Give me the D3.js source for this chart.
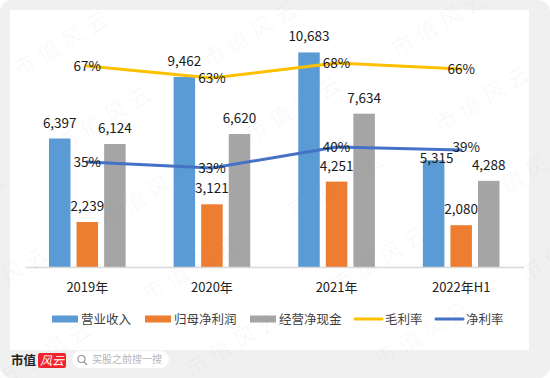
<!DOCTYPE html>
<html>
<head>
<meta charset="utf-8">
<script src="https://cdn.jsdelivr.net/npm/d3@7"></script>
<style>
html, body { margin: 0; padding: 0; background: #fff; }
text { font-family: "Noto Sans CJK SC", "Noto Sans", sans-serif; }
</style>
</head>
<body>
<div id="chart"></div>
<script>
var years = ["2019年", "2020年", "2021年", "2022年H1"];
var barNames = ["营业收入", "归母净利润", "经营净现金"];
var revenue = [6397, 9462, 10683, 5315];
var netProfit = [2239, 3121, 4251, 2080];
var cashFlow = [6124, 6620, 7634, 4288];
var grossMargin = [67, 63, 68, 66];
var netMargin = [35, 33, 40, 39];
var barColors = ["#5b9bd5", "#ed7d31", "#a5a5a5"];
var grossColor = "#ffc000", netColor = "#4472c4";

var width = 550, height = 378;
var svg = d3.select("#chart").append("svg")
    .attr("width", width)
    .attr("height", height)
    .style("display", "block");

// page background + white card
svg.append("rect").attr("x", 0).attr("y", 0).attr("width", width).attr("height", height).attr("rx", 12).attr("fill", "#f0f0f0");
svg.append("rect").attr("x", 10).attr("y", 10).attr("width", 519).attr("height", 340).attr("fill", "#fff");

var x0 = d3.scaleBand().domain(years).range([25, 523.5]);
var x1 = d3.scaleBand().domain(barNames)
    .range([24, x0.bandwidth() - 24])
    .paddingInner(0.22);
var y = d3.scaleLinear().domain([0, 12000]).range([267, 26]);
var yPct = d3.scaleLinear().domain([0, 80]).range([267, 27]);

var barSeries = [revenue, netProfit, cashFlow];

// bars
barSeries.forEach(function(values, s) {
    svg.append("g").selectAll("rect")
        .data(values)
        .enter().append("rect")
            .attr("x", function(d, i) { return x0(years[i]) + x1(barNames[s]); })
            .attr("y", function(d) { return y(d); })
            .attr("width", x1.bandwidth())
            .attr("height", function(d) { return y(0) - y(d); })
            .attr("fill", barColors[s]);
});

// x axis
var xAxis = svg.append("g")
    .attr("transform", "translate(0,267)")
    .call(d3.axisBottom(x0).tickSize(0).tickPadding(16));
xAxis.select(".domain").attr("stroke", "#d9d9d9").attr("stroke-width", 1.5);
xAxis.selectAll("text").attr("font-size", 13).attr("fill", "#222")
    .style("font-family", '"Noto Sans CJK SC", sans-serif');

// lines
var line = d3.line()
    .x(function(d, i) { return x0(years[i]) + x0.bandwidth() / 2; })
    .y(function(d) { return yPct(d); });

[[grossMargin, grossColor], [netMargin, netColor]].forEach(function(s) {
    svg.append("path")
        .attr("d", line(s[0]))
        .attr("fill", "none")
        .attr("stroke", s[1])
        .attr("stroke-width", 3)
        .attr("stroke-linecap", "round")
        .attr("stroke-linejoin", "round");
});

// bar labels
var fmt = d3.format(",");
barSeries.forEach(function(values, s) {
    svg.append("g").selectAll("text")
        .data(values)
        .enter().append("text")
            .attr("x", function(d, i) {
                var cx = x0(years[i]) + x1(barNames[s]) + x1.bandwidth() / 2;
                return d == 5315 ? cx + 3 : cx; // moved by hand in the original
            })
            .attr("y", function(d) { return d == 5315 ? y(d) + 3 : y(d) - 11; })
            .attr("text-anchor", "middle")
            .attr("font-size", 13.5)
            .attr("fill", "#1a1a1a")
            .text(function(d) { return fmt(d); });
});

// line labels
[grossMargin, netMargin].forEach(function(values) {
    svg.append("g").selectAll("text")
        .data(values)
        .enter().append("text")
            .attr("x", function(d, i) {
                var cx = x0(years[i]) + x0.bandwidth() / 2;
                return values === netMargin && i == 3 ? cx + 5 : cx;
            })
            .attr("y", function(d, i) { return yPct(d) + (values === netMargin && i == 3 ? 2 : 5); })
            .attr("text-anchor", "middle")
            .attr("font-size", 13.5)
            .attr("fill", "#1a1a1a")
            .text(function(d) { return d + "%"; });
});

// legend
var legendY = 319;
var legendBars = [52, 145, 250];
barNames.forEach(function(name, i) {
    svg.append("rect").attr("x", legendBars[i]).attr("y", legendY - 3.5).attr("width", 26).attr("height", 7).attr("fill", barColors[i]);
    svg.append("text").attr("x", legendBars[i] + 29).attr("y", legendY + 4.5)
        .attr("font-size", 12.5).attr("fill", "#404040").text(name);
});
[["毛利率", grossColor, 355], ["净利率", netColor, 436]].forEach(function(d) {
    svg.append("line").attr("x1", d[2]).attr("x2", d[2] + 27).attr("y1", legendY).attr("y2", legendY)
        .attr("stroke", d[1]).attr("stroke-width", 3).attr("stroke-linecap", "round");
    svg.append("text").attr("x", d[2] + 30).attr("y", legendY + 4.5)
        .attr("font-size", 12.5).attr("fill", "#404040").text(d[0]);
});

// footer logo and search box
svg.append("text").attr("x", 11).attr("y", 365).attr("font-size", 12.5).attr("font-weight", 700)
    .attr("fill", "#222").text("市值");
svg.append("rect").attr("x", 38).attr("y", 353).attr("width", 28).attr("height", 15).attr("rx", 2).attr("fill", "#f0222e");
svg.append("text").attr("x", 40).attr("y", 365).attr("font-size", 12).attr("font-style", "italic")
    .attr("fill", "#fff").text("风云");
svg.append("rect").attr("x", 72).attr("y", 351).attr("width", 97).attr("height", 17).attr("rx", 8.5).attr("fill", "#fff");
svg.append("circle").attr("cx", 81.5).attr("cy", 359).attr("r", 3.5).attr("fill", "none").attr("stroke", "#999").attr("stroke-width", 1.2);
svg.append("line").attr("x1", 84).attr("y1", 362).attr("x2", 87).attr("y2", 365).attr("stroke", "#999").attr("stroke-width", 1.2);
svg.append("text").attr("x", 92).attr("y", 363).attr("font-size", 10).attr("fill", "#b5b5b5").text("买股之前搜一搜");

// watermark repeats across the page, copies off the page are skipped
var wmRows = [0, 1, 2, 3, 4];
var wmCols = [-1, 0, 1, 2];
wmRows.forEach(function(r) {
    wmCols.forEach(function(c) {
        var wx = 19 + c * 189 + r * 43, wy = 78 - c * 10 + r * 75;
        if (wx + 93 < 0 || wx > width || wy - 55 > height) return;
        svg.append("text")
            .attr("transform", "translate(" + wx + "," + wy + ") rotate(-30.6)")
            .attr("font-size", 22)
            .attr("font-weight", 300)
            .attr("letter-spacing", 6)
            .attr("fill", "#808080")
            .attr("fill-opacity", 0.08)
            .text("市值风云");
    });
});
</script>
</body>
</html>
